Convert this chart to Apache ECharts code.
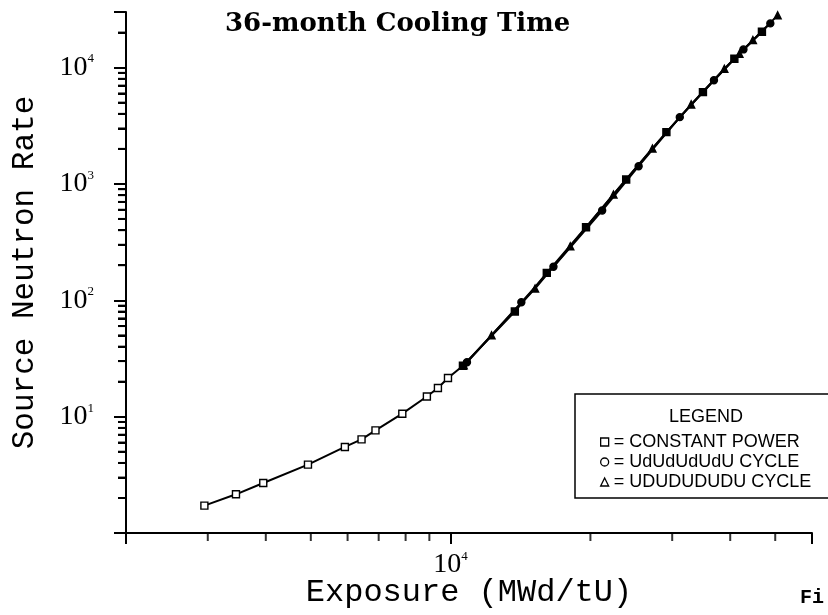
<!DOCTYPE html>
<html><head><meta charset="utf-8">
<script src="https://cdn.jsdelivr.net/npm/echarts@6/dist/echarts.min.js"></script>
<style>html,body{margin:0;padding:0;background:#fff}#c{width:828px;height:615px}</style>
</head><body><div id="c"></div>
<script>
const titleText = '36-month Cooling Time';
const xTitle = 'Exposure (MWd/tU)';
const yTitle = 'Source Neutron Rate';
const seriesNames = ['CONSTANT POWER', 'UdUdUdUdU CYCLE', 'UDUDUDUDU CYCLE'];

const cpExposure = [2950, 3450, 3950, 4930, 5920, 6430, 6890, 7870, 8890, 9390, 9870, 10630, 13750, 16110, 19570, 23880, 29150, 34940, 40830, 46810];
const cpRate     = [1.72, 2.15, 2.69, 3.87, 5.49, 6.38, 7.62, 10.6, 14.9, 17.6, 21.5, 27.4, 80, 172, 424, 1091, 2783, 6145, 11900, 20320];
const udExposure = [10845, 14200, 16650, 21200, 25400, 31150, 36900, 42710, 48800];
const udRate     = [29.3, 96, 194, 590, 1419, 3746, 7780, 14310, 23940];
const UDExposure = [10669, 12250, 15200, 18100, 22420, 27200, 32960, 38850, 41870, 44760, 50600];
const UDRate     = [27.6, 50, 126, 291, 811, 2015, 4818, 9765, 13140, 17200, 28050];

const xMin = 2000, xMax = 60000, yMin = 1, yMax = 30000;
const xLabelValues = [10000];
const yLabelValues = [10, 100, 1000, 10000];
const xMinorTicks = [3000, 4000, 5000, 6000, 7000, 8000, 9000, 20000, 30000, 40000, 50000];
const yMinorTicks = [2, 3, 4, 5, 6, 7, 8, 9, 20, 30, 40, 50, 60, 70, 80, 90, 200, 300, 400, 500, 600, 700, 800, 900, 2000, 3000, 4000, 5000, 6000, 7000, 8000, 9000, 20000];

const zip = (a, b) => a.map((v, i) => [v, b[i]]);
const supFmt = v => {
  const e = Math.log10(v);
  return Math.abs(e - Math.round(e)) < 1e-6 ? '{b|10}{s|' + Math.round(e) + '}' : '';
};
const richLab = {
  b: { fontFamily: 'Liberation Serif', fontSize: 28, color: '#000', lineHeight: 30 },
  s: { fontFamily: 'Liberation Serif', fontSize: 13, color: '#000', verticalAlign: 'top', lineHeight: 14 }
};
const black = '#000';
const monoFont = '"Liberation Mono", "DejaVu Sans Mono", monospace';
const legendFont = '"Liberation Sans", Arial, sans-serif';
const MINOR_LEN = 8;

const chart = echarts.init(document.getElementById('c'), null, { renderer: 'canvas' });
const markerColor = p => (p.value[0] > 10500 ? '#000' : '#fff');
function mkSeries(name, data, symbol) {
  return {
    name, type: 'line', data, symbol, symbolSize: 7, showAllSymbol: true,
    xAxisIndex: 0, yAxisIndex: 0,
    lineStyle: { color: black, width: 2 },
    itemStyle: { color: markerColor, borderColor: black, borderWidth: 1.4 },
    emphasis: { disabled: true }, clip: false, z: 3
  };
}

chart.setOption({
  backgroundColor: '#fff',
  animation: false,
  title: { text: titleText, left: 220, top: 6, textStyle: { fontFamily: '"DejaVu Serif", serif', fontSize: 26, fontWeight: 'bold', color: black } },
  grid: { left: 126, right: 16, top: 12, bottom: 82, containLabel: false, outerBoundsMode: 'none' },
  xAxis: {
    type: 'log', logBase: 10, min: xMin, max: xMax, position: 'bottom',
    axisLine: { show: true, lineStyle: { color: black, width: 2 } },
    axisTick: { show: true, length: 11, lineStyle: { color: black, width: 2 } },
    axisLabel: { customValues: xLabelValues, formatter: supFmt, rich: richLab, margin: 17 },
    splitLine: { show: false }, minorTick: { show: false },
    name: xTitle, nameLocation: 'middle', nameGap: 44, nameMoveOverlap: false,
    nameTextStyle: { fontFamily: monoFont, fontSize: 32, color: black }
  },
  yAxis: [{
    type: 'log', logBase: 10, min: yMin, max: yMax, position: 'left',
    axisLine: { show: true, lineStyle: { color: black, width: 2 } },
    axisTick: { show: true, length: 12, lineStyle: { color: black, width: 2 } },
    axisLabel: { customValues: yLabelValues, formatter: supFmt, rich: richLab, margin: 32 },
    splitLine: { show: false }, minorTick: { show: false },
    name: yTitle, nameLocation: 'middle', nameGap: 86, nameRotate: 90, nameMoveOverlap: false,
    nameTextStyle: { fontFamily: monoFont, fontSize: 31, color: black }
  }, {
    // minor ticks of the log axis, placed on a companion axis in log10 units
    type: 'value', min: 0, max: Math.log10(yMax), position: 'left', offset: 0,
    zlevel: 1, z: 20,
    axisLine: { show: false },
    axisTick: { show: true, customValues: yMinorTicks.map(v => Math.log10(v)), length: MINOR_LEN, lineStyle: { color: black, width: 2 } },
    axisLabel: { show: false }, splitLine: { show: false }
  }],
  legend: {
    orient: 'vertical', left: 595, top: 428, itemGap: 2, itemWidth: 8, itemHeight: 8,
    data: [
      { name: seriesNames[0], icon: 'rect' },
      { name: seriesNames[1], icon: 'circle' },
      { name: seriesNames[2], icon: 'triangle' }
    ],
    itemStyle: { color: '#fff', borderColor: black, borderWidth: 1.3 },
    formatter: n => '= ' + n,
    textStyle: { fontFamily: legendFont, fontSize: 18, color: black, lineHeight: 18 },
    selectedMode: false
  },
  graphic: [
    { type: 'rect', shape: { x: 575, y: 394, width: 280, height: 104 }, style: { fill: 'none', stroke: black, lineWidth: 1.5 }, z: 10 },
    { type: 'text', x: 706, y: 417, style: { text: 'LEGEND', fill: black, font: '18px ' + legendFont, align: 'center', verticalAlign: 'middle' }, z: 10 },
    { type: 'text', x: 800, y: 598, style: { text: 'Fi', fill: black, font: 'bold 20px "Liberation Mono", monospace', align: 'left', verticalAlign: 'middle' }, z: 10 }
  ],
  series: [
    mkSeries(seriesNames[0], zip(cpExposure, cpRate), 'rect'),
    mkSeries(seriesNames[1], zip(udExposure, udRate), 'circle'),
    mkSeries(seriesNames[2], zip(UDExposure, UDRate), 'triangle'),
    {
      name: 'xMinorTicks', type: 'scatter', xAxisIndex: 0, yAxisIndex: 0,
      data: xMinorTicks.map(v => [v, yMin]),
      symbol: 'rect', symbolSize: [2, MINOR_LEN], symbolOffset: [0, MINOR_LEN / 2],
      itemStyle: { color: black, borderWidth: 0 },
      silent: true, clip: false, z: 5, emphasis: { disabled: true }
    },
    {
      name: 'yMinorTicks', type: 'scatter', xAxisIndex: 0, yAxisIndex: 0,
      data: yMinorTicks.map(v => [xMin, v]),
      symbol: 'rect', symbolSize: [MINOR_LEN, 2], symbolOffset: [-MINOR_LEN / 2, 0],
      itemStyle: { color: black, borderWidth: 0 },
      silent: true, clip: false, zlevel: 1, z: 20, emphasis: { disabled: true }
    }
  ]
});
</script></body></html>
